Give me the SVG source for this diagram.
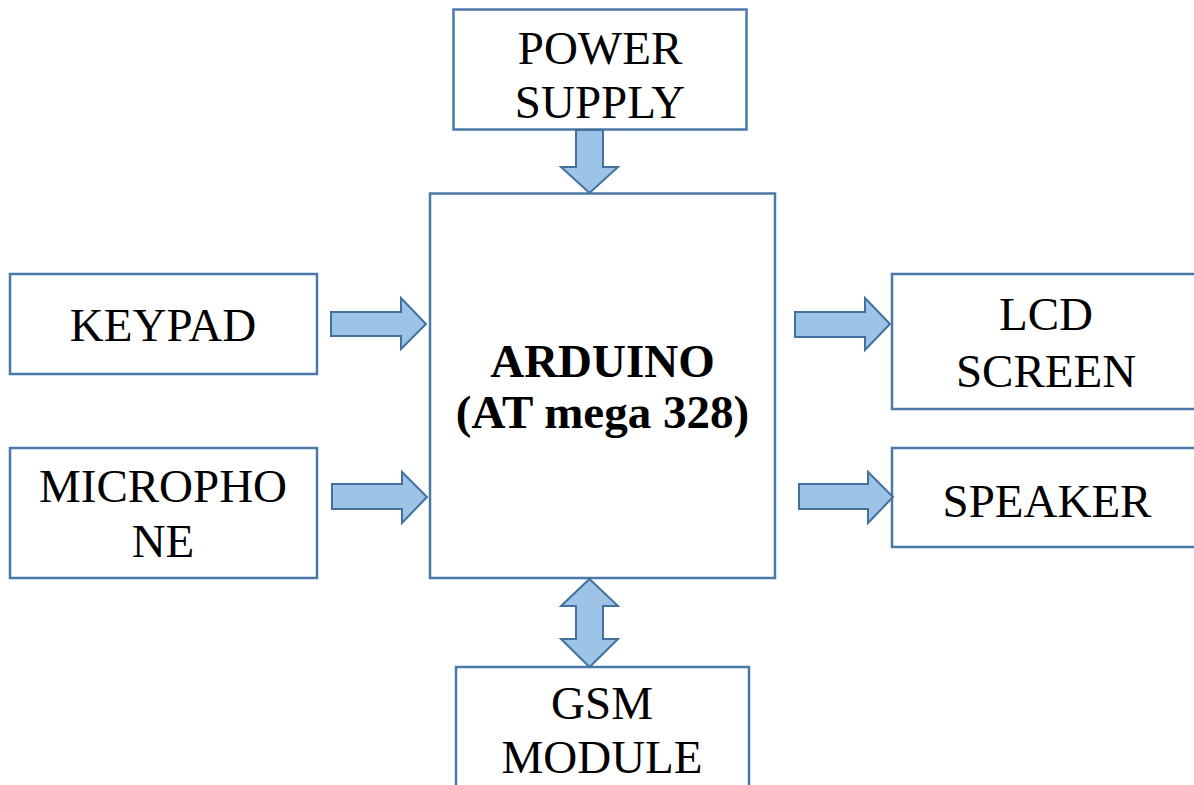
<svg xmlns="http://www.w3.org/2000/svg" width="1194" height="785" viewBox="0 0 1194 785">
<style>
.box{fill:#fff;stroke:#4a78a8;stroke-width:2.5}
.arr{fill:#9dc3e6;stroke:#41719c;stroke-width:2;stroke-linejoin:miter}
text{font-family:"Liberation Serif","Times New Roman",serif;font-size:47px;fill:#000;text-anchor:middle}
.b{font-weight:bold}
</style>
<rect width="1194" height="785" fill="#fff"/>
<g id="power"><rect class="box" x="453.5" y="9.5" width="293" height="120"/><text x="600" y="64">POWER</text><text x="600" y="118">SUPPLY</text></g>
<g id="arduino"><rect class="box" x="430" y="193.5" width="345" height="384.5"/><text class="b" x="602.5" y="377">ARDUINO</text><text class="b" x="602.5" y="428">(AT mega 328)</text></g>
<g id="keypad"><rect class="box" x="10" y="274" width="307" height="100"/><text x="163" y="341">KEYPAD</text></g>
<g id="microphone"><rect class="box" x="10" y="448" width="307" height="130"/><text x="163" y="502">MICROPHO</text><text x="163" y="557">NE</text></g>
<g id="lcd"><rect class="box" x="892" y="274" width="310" height="135"/><text x="1046" y="330">LCD</text><text x="1046" y="387">SCREEN</text></g>
<g id="speaker"><rect class="box" x="892" y="448" width="310" height="99"/><text x="1047" y="517">SPEAKER</text></g>
<g id="gsm"><rect class="box" x="456" y="667" width="293" height="130"/><text x="602" y="719">GSM</text><text x="602" y="773">MODULE</text></g>
<g id="connectors">
<polygon class="arr" points="576,130 603,130 603,167 618,167 589.5,193 561,167 576,167"/>
<polygon class="arr" points="331,312 401,312 401,298 426,324 401,349 401,336 331,336"/>
<polygon class="arr" points="332,484 402,484 402,472 427,497 402,523 402,509 332,509"/>
<polygon class="arr" points="795,312 865,312 865,298 890,324 865,350 865,337 795,337"/>
<polygon class="arr" points="799,484 868,484 868,472 893,497 868,523 868,509 799,509"/>
<polygon class="arr" points="589.5,579 618,606 603,606 603,639 618,639 589.5,667 561,639 576,639 576,606 561,606"/>
</g>
</svg>
